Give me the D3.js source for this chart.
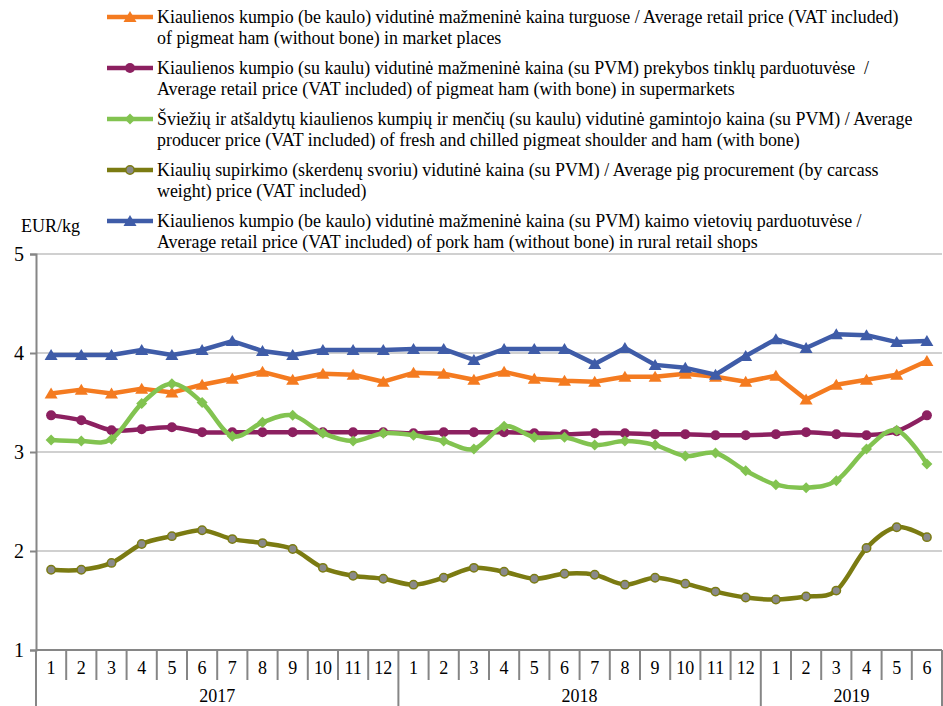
<!DOCTYPE html>
<html>
<head>
<meta charset="utf-8">
<script src="https://cdn.jsdelivr.net/npm/d3@7"></script>
<style>
	body { margin: 0; background: #ffffff; }
	svg { display: block; font-family: "Liberation Serif", "Times New Roman", serif; }
</style>
</head>
<body>
<div id="chart"></div>
<script>
var months = ["1","2","3","4","5","6","7","8","9","10","11","12",
              "1","2","3","4","5","6","7","8","9","10","11","12",
              "1","2","3","4","5","6"];
var years = [{"label":"2017","start":0,"count":12},
             {"label":"2018","start":12,"count":12},
             {"label":"2019","start":24,"count":6}];
var yTicks = [1,2,3,4,5];

var marketHam = [3.59,3.63,3.59,3.64,3.60,3.68,3.74,3.81,3.73,3.79,3.78,3.71,
                 3.80,3.79,3.73,3.81,3.74,3.72,3.71,3.76,3.76,3.79,3.76,3.71,
                 3.77,3.53,3.68,3.73,3.78,3.92];
var supermarketHam = [3.37,3.32,3.22,3.23,3.25,3.20,3.20,3.20,3.20,3.20,3.20,3.20,
                      3.19,3.20,3.20,3.20,3.19,3.18,3.19,3.19,3.18,3.18,3.17,3.17,
                      3.18,3.20,3.18,3.17,3.21,3.37];
var producerHam = [3.12,3.11,3.13,3.49,3.69,3.50,3.16,3.30,3.37,3.19,3.11,3.19,
                   3.17,3.11,3.03,3.26,3.15,3.15,3.07,3.11,3.07,2.96,2.99,2.81,
                   2.67,2.64,2.71,3.03,3.22,2.88];
var pigProcurement = [1.81,1.81,1.88,2.07,2.15,2.21,2.12,2.08,2.02,1.83,1.75,1.72,
                      1.66,1.73,1.83,1.79,1.72,1.77,1.76,1.66,1.73,1.67,1.59,1.53,
                      1.51,1.54,1.60,2.03,2.24,2.14];
var ruralHam = [3.98,3.98,3.98,4.03,3.98,4.03,4.12,4.02,3.98,4.03,4.03,4.03,
                4.04,4.04,3.93,4.04,4.04,4.04,3.89,4.05,3.88,3.85,3.78,3.97,
                4.14,4.05,4.19,4.18,4.11,4.12];

var legendLines = [
	["Kiaulienos kumpio (be kaulo) vidutinė mažmeninė kaina turguose / Average retail price (VAT included)",
	 "of pigmeat ham (without bone) in market places"],
	["Kiaulienos kumpio (su kaulu) vidutinė mažmeninė kaina (su PVM) prekybos tinklų parduotuvėse  /",
	 "Average retail price (VAT included) of pigmeat ham (with bone) in supermarkets"],
	["Šviežių ir atšaldytų kiaulienos kumpių ir menčių (su kaulu) vidutinė gamintojo kaina (su PVM) / Average",
	 "producer price (VAT included) of fresh and chilled pigmeat shoulder and ham (with bone)"],
	["Kiaulių supirkimo (skerdenų svoriu) vidutinė kaina (su PVM) / Average pig procurement (by carcass",
	 "weight) price (VAT included)"],
	["Kiaulienos kumpio (be kaulo) vidutinė mažmeninė kaina (su PVM) kaimo vietovių parduotuvėse /",
	 "Average retail price (VAT included) of pork ham (without bone) in rural retail shops"]
];

var series = [
	{"values": marketHam, "color": "#f47b20", "marker": "triangle", "smooth": false},
	{"values": supermarketHam, "color": "#8c2060", "marker": "circle", "smooth": true},
	{"values": producerHam, "color": "#82c350", "marker": "diamond", "smooth": true},
	{"values": pigProcurement, "color": "#7b7b12", "marker": "dot", "smooth": true},
	{"values": ruralHam, "color": "#3f5ca8", "marker": "triangle", "smooth": false}
];

var W = 943, H = 706;
var plotLeft = 36, plotRight = 942, plotTop = 254, plotBottom = 650;

var svg = d3.select("#chart").append("svg")
	.attr("width", W).attr("height", H);

var x = d3.scaleBand().domain(d3.range(months.length)).range([plotLeft, plotRight]);
var y = d3.scaleLinear().domain([1,5]).range([plotBottom, plotTop]);

// gridlines
svg.append("g").selectAll("line").data(yTicks).enter().append("line")
	.attr("x1", plotLeft).attr("x2", plotRight)
	.attr("y1", function(d){ return y(d); })
	.attr("y2", function(d){ return y(d); })
	.style("stroke", "#c0c0c0").style("stroke-width", 1.3);

// y axis
var yAxis = svg.append("g").attr("transform", "translate(" + plotLeft + ",0)")
	.call(d3.axisLeft(y).tickValues(yTicks).tickSize(6).tickPadding(6).tickFormat(d3.format("d")));
yAxis.select(".domain").style("stroke", "#868686").style("stroke-width", 2);
yAxis.selectAll(".tick line").style("stroke", "#868686").style("stroke-width", 2);
yAxis.selectAll(".tick text").style("font-family", "Liberation Serif").style("font-size", "20px").style("fill", "#000");

svg.append("text").attr("x", 21).attr("y", 232)
	.style("font-size", "18px").text("EUR/kg");

// x axis
svg.append("line").attr("x1", plotLeft).attr("x2", plotRight).attr("y1", plotBottom).attr("y2", plotBottom)
	.style("stroke", "#868686").style("stroke-width", 2);

var bounds = d3.range(months.length + 1);
svg.append("g").selectAll("line").data(bounds).enter().append("line")
	.attr("x1", function(d){ return d < months.length ? x(d) : plotRight; })
	.attr("x2", function(d){ return d < months.length ? x(d) : plotRight; })
	.attr("y1", plotBottom)
	.attr("y2", function(d){
		var isYear = years.some(function(yr){ return yr.start == d; }) || d == months.length;
		return isYear ? H : 680;
	})
	.style("stroke", "#868686").style("stroke-width", 2);

svg.append("g").selectAll("text").data(months).enter().append("text")
	.attr("x", function(d,i){ return x(i) + x.bandwidth()/2; })
	.attr("y", 674)
	.attr("text-anchor", "middle")
	.style("font-size", "18px")
	.text(function(d){ return d; });

svg.append("g").selectAll("text").data(years).enter().append("text")
	.attr("x", function(d){ return x(d.start) + d.count * x.bandwidth()/2; })
	.attr("y", 702)
	.attr("text-anchor", "middle")
	.style("font-size", "18px")
	.text(function(d){ return d.label; });

function drawMarker(g, type, color, cx, cy){
	if (type == "triangle"){
		g.append("path").attr("d", "M" + cx + "," + (cy-6) + "L" + (cx+6.5) + "," + (cy+5) + "L" + (cx-6.5) + "," + (cy+5) + "Z")
			.style("fill", color);
	} else if (type == "circle"){
		g.append("circle").attr("cx", cx).attr("cy", cy).attr("r", 5).style("fill", color);
	} else if (type == "diamond"){
		g.append("path").attr("d", "M" + cx + "," + (cy-5.5) + "L" + (cx+5.5) + "," + cy + "L" + cx + "," + (cy+5.5) + "L" + (cx-5.5) + "," + cy + "Z")
			.style("fill", color);
	} else {
		g.append("circle").attr("cx", cx).attr("cy", cy).attr("r", 4.2)
			.style("fill", "#8a8a8a").style("stroke", color).style("stroke-width", 1.5);
	}
}

// series
series.forEach(function(s){
	var line = d3.line()
		.x(function(d,i){ return x(i) + x.bandwidth()/2; })
		.y(function(d){ return y(d); })
		.curve(s.smooth ? d3.curveCardinal.tension(0) : d3.curveLinear);
	var g = svg.append("g");
	g.append("path").datum(s.values).attr("d", line)
		.style("fill", "none").style("stroke", s.color).style("stroke-width", 4.5)
		.style("stroke-linejoin", "round");
	s.values.forEach(function(v,i){
		drawMarker(g, s.marker, s.color, x(i) + x.bandwidth()/2, y(v));
	});
});

// legend
var legend = svg.append("g");
series.forEach(function(s,i){
	var cy = 17 + i * 51;
	var g = legend.append("g");
	g.append("line").attr("x1", 107).attr("x2", 153).attr("y1", cy).attr("y2", cy)
		.style("stroke", s.color).style("stroke-width", 4.5);
	drawMarker(g, s.marker, s.color, 130, cy);
	legendLines[i].forEach(function(t,j){
		g.append("text").attr("x", 157).attr("y", cy + 5.5 + j * 21)
			.style("font-size", "17.9px").style("white-space", "pre").text(t);
	});
});
</script>
</body>
</html>
